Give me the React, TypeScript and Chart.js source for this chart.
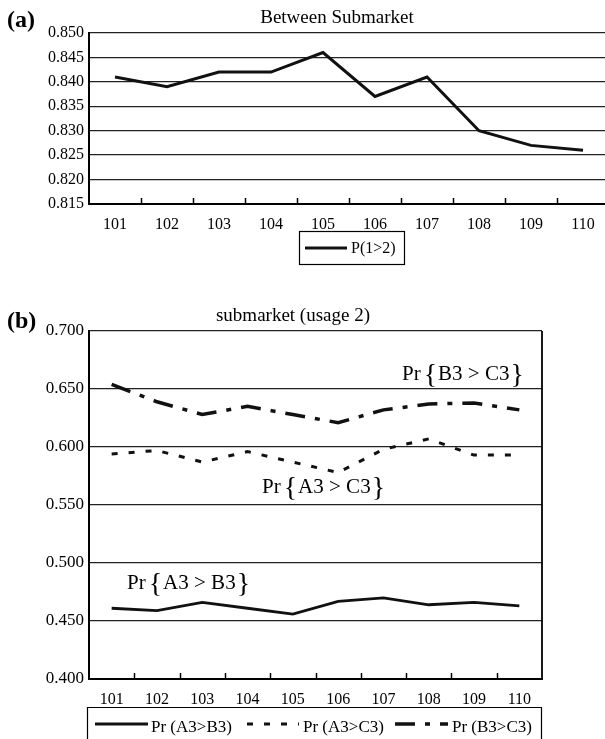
import React, { useEffect, useRef } from 'react';
import { Chart, registerables } from 'chart.js';

Chart.register(...registerables);

const SERIF = '"Liberation Serif", "Times New Roman", Times, serif';

// ---------- data ----------
const categories = ['101', '102', '103', '104', '105', '106', '107', '108', '109', '110'];

const pBetween = [0.841, 0.839, 0.842, 0.842, 0.846, 0.837, 0.841, 0.830, 0.827, 0.826];

const prA3B3 = [0.461, 0.459, 0.466, 0.461, 0.456, 0.467, 0.470, 0.464, 0.466, 0.463];
const prA3C3 = [0.594, 0.597, 0.587, 0.596, 0.587, 0.578, 0.598, 0.607, 0.593, 0.593];
const prB3C3 = [0.654, 0.639, 0.628, 0.635, 0.628, 0.621, 0.632, 0.637, 0.638, 0.632];

const yTicksA = [0.815, 0.82, 0.825, 0.83, 0.835, 0.84, 0.845, 0.85];
const yTicksB = [0.4, 0.45, 0.5, 0.55, 0.6, 0.65, 0.7];

const titleA = 'Between Submarket';
const titleB = 'submarket (usage 2)';
const panelA = '(a)';
const panelB = '(b)';
const legendA = ['P(1>2)'];
const legendB = ['Pr (A3>B3)', 'Pr (A3>C3)', 'Pr (B3>C3)'];
const annotationsB = ['B3 > C3', 'A3 > C3', 'A3 > B3'];

// ---------- helpers ----------
function drawInwardTicks(chart: any, len: number) {
  const xs = chart.scales.x;
  const { ctx, chartArea } = chart;
  ctx.save();
  ctx.strokeStyle = '#000';
  ctx.lineWidth = 1.5;
  for (let i = 0; i < categories.length - 1; i++) {
    const px = Math.round(xs.getPixelForValue(i + 0.5)) + 0.5;
    ctx.beginPath();
    ctx.moveTo(px, chartArea.bottom);
    ctx.lineTo(px, chartArea.bottom - len);
    ctx.stroke();
  }
  ctx.restore();
}

function drawSample(ctx: CanvasRenderingContext2D, ds: any, x1: number, x2: number, y: number) {
  ctx.save();
  ctx.strokeStyle = ds.borderColor;
  ctx.lineWidth = ds.borderWidth;
  ctx.setLineDash(ds.borderDash || []);
  ctx.beginPath();
  ctx.moveTo(x1, y);
  ctx.lineTo(x2, y);
  ctx.stroke();
  ctx.restore();
}

function drawPr(ctx: CanvasRenderingContext2D, x: number, y: number, inner: string) {
  ctx.save();
  ctx.fillStyle = '#000';
  ctx.textAlign = 'left';
  ctx.textBaseline = 'alphabetic';
  ctx.font = `21px ${SERIF}`;
  ctx.fillText('Pr', x, y);
  let cx = x + ctx.measureText('Pr').width + 3;
  ctx.font = `28px ${SERIF}`;
  ctx.fillText('{', cx, y + 3);
  cx += ctx.measureText('{').width + 1;
  ctx.font = `21px ${SERIF}`;
  ctx.fillText(inner, cx, y);
  cx += ctx.measureText(inner).width + 1;
  ctx.font = `28px ${SERIF}`;
  ctx.fillText('}', cx, y + 3);
  ctx.restore();
}

const decorA = {
  id: 'decorA',
  afterDraw(chart: any) {
    const ctx: CanvasRenderingContext2D = chart.ctx;
    drawInwardTicks(chart, 6);
    ctx.save();
    ctx.fillStyle = '#000';
    ctx.textBaseline = 'alphabetic';
    ctx.textAlign = 'left';
    ctx.font = `bold 24px ${SERIF}`;
    ctx.fillText(panelA, 7, 27);
    ctx.textAlign = 'center';
    ctx.font = `19px ${SERIF}`;
    ctx.fillText(titleA, 337, 23);
    // legend box
    ctx.strokeStyle = '#000';
    ctx.lineWidth = 1.2;
    ctx.strokeRect(299.5, 231.5, 105, 33);
    drawSample(ctx, chart.data.datasets[0], 305, 347, 248);
    ctx.textAlign = 'left';
    ctx.font = `16px ${SERIF}`;
    ctx.fillText(legendA[0], 351, 253);
    ctx.restore();
  },
};

const decorB = {
  id: 'decorB',
  afterDraw(chart: any) {
    const ctx: CanvasRenderingContext2D = chart.ctx;
    const { chartArea } = chart;
    drawInwardTicks(chart, 6);
    ctx.save();
    // right frame line
    ctx.strokeStyle = '#000';
    ctx.lineWidth = 1.8;
    ctx.beginPath();
    ctx.moveTo(chartArea.right, chartArea.top);
    ctx.lineTo(chartArea.right, chartArea.bottom);
    ctx.stroke();

    ctx.fillStyle = '#000';
    ctx.textBaseline = 'alphabetic';
    ctx.textAlign = 'left';
    ctx.font = `bold 24px ${SERIF}`;
    ctx.fillText(panelB, 7, 38);
    ctx.textAlign = 'center';
    ctx.font = `19px ${SERIF}`;
    ctx.fillText(titleB, 293, 31);

    // annotations
    drawPr(ctx, 402, 90, annotationsB[0]);
    drawPr(ctx, 262, 203, annotationsB[1]);
    drawPr(ctx, 127, 299, annotationsB[2]);

    // legend box (bottom edge lies below the visible page)
    ctx.strokeStyle = '#000';
    ctx.lineWidth = 1.2;
    ctx.beginPath();
    ctx.moveTo(87.5, 460);
    ctx.lineTo(87.5, 417.5);
    ctx.lineTo(541.5, 417.5);
    ctx.lineTo(541.5, 460);
    ctx.stroke();
    const ds = chart.data.datasets;
    const samples = [
      [95, 148],
      [247, 299],
      [395, 448],
    ];
    const textX = [151, 303, 452];
    ctx.font = `17px ${SERIF}`;
    ctx.textAlign = 'left';
    for (let i = 0; i < 3; i++) {
      drawSample(ctx, ds[i], samples[i][0], samples[i][1], 434);
      ctx.fillText(legendB[i], textX[i], 442);
    }
    ctx.restore();
  },
};

function makeOptions(yTicks: number[], yFont: number, padding: any) {
  return {
    responsive: false,
    animation: false as const,
    layout: { padding },
    plugins: {
      legend: { display: false },
      title: { display: false },
      tooltip: { enabled: false },
    },
    elements: { point: { radius: 0 }, line: { tension: 0 } },
    scales: {
      x: {
        type: 'category' as const,
        offset: true,
        grid: { display: false },
        border: { display: true, color: '#000', width: 2 },
        ticks: {
          color: '#000',
          font: { family: SERIF, size: 16 },
          padding: 3,
          maxRotation: 0,
          autoSkip: false,
        },
        afterFit: (s: any) => {
          s.height = 30;
        },
      },
      y: {
        type: 'linear' as const,
        min: yTicks[0],
        max: yTicks[yTicks.length - 1],
        afterBuildTicks: (s: any) => {
          s.ticks = yTicks.map((v) => ({ value: v }));
        },
        grid: { color: '#222', lineWidth: 1.3, drawTicks: false },
        border: { display: true, color: '#000', width: 2 },
        ticks: {
          color: '#000',
          font: { family: SERIF, size: yFont },
          padding: 5,
          callback: (v: any) => Number(v).toFixed(3),
        },
        afterFit: (s: any) => {
          s.width = 89;
        },
      },
    },
  };
}

export default function App() {
  const refA = useRef<HTMLCanvasElement>(null);
  const refB = useRef<HTMLCanvasElement>(null);

  useEffect(() => {
    const chartA = new Chart(refA.current as HTMLCanvasElement, {
      type: 'line',
      data: {
        labels: categories,
        datasets: [
          {
            label: legendA[0],
            data: pBetween,
            borderColor: '#111',
            borderWidth: 3,
            borderDash: [],
            fill: false,
          },
        ],
      },
      options: makeOptions(yTicksA, 16, { left: 0, top: 33, right: 31, bottom: 56 }) as any,
      plugins: [decorA],
    });

    const chartB = new Chart(refB.current as HTMLCanvasElement, {
      type: 'line',
      data: {
        labels: categories,
        datasets: [
          {
            label: legendB[0],
            data: prA3B3,
            borderColor: '#111',
            borderWidth: 2.8,
            borderDash: [],
            fill: false,
          },
          {
            label: legendB[1],
            data: prA3C3,
            borderColor: '#111',
            borderWidth: 3,
            borderDash: [6, 11],
            fill: false,
          },
          {
            label: legendB[2],
            data: prB3C3,
            borderColor: '#111',
            borderWidth: 3.5,
            borderDash: [20, 10, 5, 10],
            fill: false,
          },
        ],
      },
      options: makeOptions(yTicksB, 17, { left: 0, top: 41, right: 63, bottom: 30 }) as any,
      plugins: [decorB],
    });

    return () => {
      chartA.destroy();
      chartB.destroy();
    };
  }, []);

  return (
    <div
      style={{
        position: 'fixed',
        left: 0,
        top: 0,
        width: 605,
        height: 739,
        overflow: 'hidden',
        background: '#fff',
      }}
    >
      <canvas
        ref={refA}
        width={640}
        height={290}
        style={{ position: 'absolute', left: 0, top: 0, width: 640, height: 290 }}
      />
      <canvas
        ref={refB}
        width={605}
        height={449}
        style={{ position: 'absolute', left: 0, top: 290, width: 605, height: 449 }}
      />
    </div>
  );
}
